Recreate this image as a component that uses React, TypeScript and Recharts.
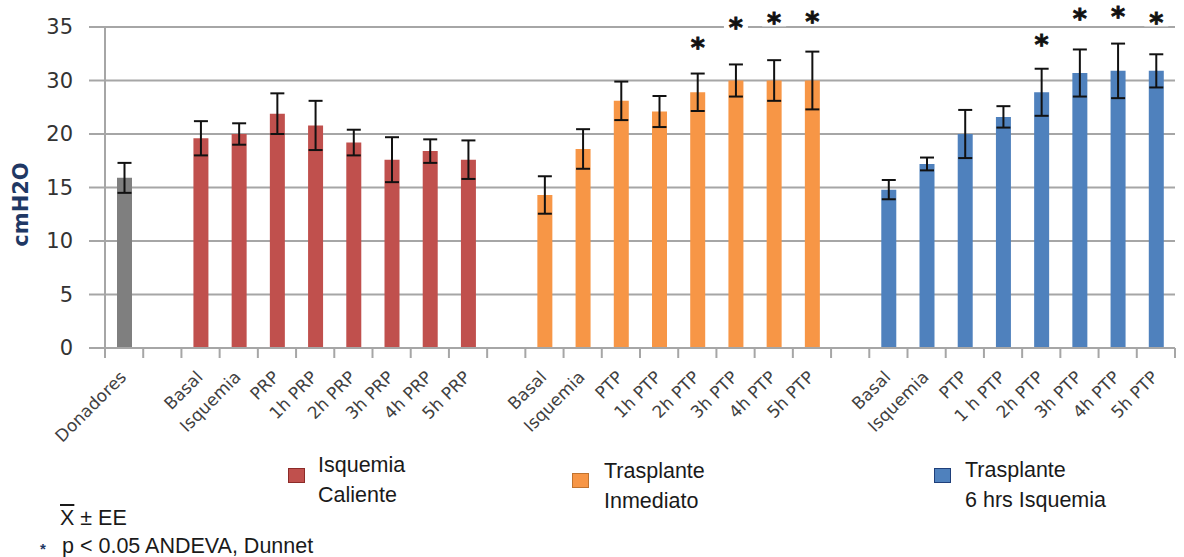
import React from 'react';
import { BarChart, Bar, XAxis, YAxis, CartesianGrid, ErrorBar, Cell, LabelList } from 'recharts';

// valores (cmH2O, media y error estandar)
const catDonadores = ['Donadores'];
const valDonadores = [15.9];
const eeDonadores = [1.4];

const catCaliente = ['Basal', 'Isquemia', 'PRP', '1h PRP', '2h PRP', '3h PRP', '4h PRP', '5h PRP'];
const valCaliente = [19.6, 20.0, 21.9, 20.8, 19.2, 17.6, 18.4, 17.6];
const eeCaliente = [1.6, 1.0, 1.9, 2.3, 1.2, 2.1, 1.1, 1.8];

const catInmediato = ['Basal', 'Isquemia', 'PTP', '1h PTP', '2h PTP', '3h PTP', '4h PTP', '5h PTP'];
const valInmediato = [14.3, 18.6, 23.1, 22.1, 23.9, 25.0, 25.0, 25.0];
const eeInmediato = [1.75, 1.85, 1.8, 1.45, 1.75, 1.5, 1.9, 2.7];
const estrellaInmediato = [null, null, null, null, 28.6, 30.5, 30.9, 31.0];

const catSeisHrs = ['Basal', 'Isquemia', 'PTP', '1 h PTP', '2h PTP', '3h PTP', '4h PTP', '5h PTP'];
const valSeisHrs = [14.8, 17.2, 20.0, 21.6, 23.9, 25.7, 25.9, 25.9];
const eeSeisHrs = [0.9, 0.6, 2.25, 1.0, 2.2, 2.2, 2.55, 1.55];
const estrellaSeisHrs = [null, null, null, null, 28.9, 31.35, 31.45, 30.9];

const ticksY = [0, 5, 10, 15, 20, 25, 30];
const etiquetasY = ['0', '5', '10', '15', '20', '30', '35'];

const leyendaTextos = [
  ['Isquemia', 'Caliente'],
  ['Trasplante', 'Inmediato'],
  ['Trasplante', '6 hrs Isquemia'],
];

const GRIS = '#A6A6A6';
const colores = {
  donadores: '#7F7F7F',
  caliente: '#C0504D',
  inmediato: '#F79646',
  seisHrs: '#4F81BD',
};

type Fila = { cat: string; valor: number | null; ee: number | null; estrella: number | null; color: string };

const vacio = (): Fila => ({ cat: '', valor: null, ee: null, estrella: null, color: 'none' });

const grupo = (cats: string[], vals: number[], ees: number[], color: string, estrellas?: (number | null)[]): Fila[] =>
  cats.map((c, i) => ({ cat: c, valor: vals[i], ee: ees[i], estrella: estrellas ? estrellas[i] : null, color }));

const datos: Fila[] = [
  ...grupo(catDonadores, valDonadores, eeDonadores, colores.donadores),
  vacio(),
  ...grupo(catCaliente, valCaliente, eeCaliente, colores.caliente),
  vacio(),
  ...grupo(catInmediato, valInmediato, eeInmediato, colores.inmediato, estrellaInmediato),
  vacio(),
  ...grupo(catSeisHrs, valSeisHrs, eeSeisHrs, colores.seisHrs, estrellaSeisHrs),
];

const ANCHO = 1184;
const ALTO = 557;
const ANCHO_EJE_Y = 105;
const MARGEN = { top: 27, right: 9, left: 0, bottom: 0 };
const BANDA = (ANCHO - ANCHO_EJE_Y - MARGEN.right) / datos.length;

// altura de la estrella relativa a la barra (la escala lineal parte de 0)
const proporcionEstrella = (d: Fila) => (d.estrella == null || d.valor == null ? null : d.estrella / d.valor);

function TickX(props: any) {
  const { x, y, payload, index } = props;
  const izq = x - BANDA / 2;
  const ultimo = index === datos.length - 1;
  const tx = x - 1;
  const ty = y + 26;
  return (
    <g>
      <line x1={izq} y1={y} x2={izq} y2={y + 10} stroke={GRIS} strokeWidth={2} />
      {ultimo && <line x1={x + BANDA / 2} y1={y} x2={x + BANDA / 2} y2={y + 10} stroke={GRIS} strokeWidth={2} />}
      {payload.value ? (
        <text
          x={tx}
          y={ty}
          dy="0.35em"
          textAnchor="end"
          transform={`rotate(-45 ${tx} ${ty})`}
          fill="#404040"
          fontSize={17}
          fontFamily="'DejaVu Sans', sans-serif"
        >
          {payload.value}
        </text>
      ) : null}
    </g>
  );
}

function Estrella(props: any) {
  const { x, y, width, height, value } = props;
  if (value == null || !height) return null;
  const cero = y + height;
  const cy = cero - value * height;
  const cx = x + width / 2;
  return (
    <g>
      <rect x={cx - 12} y={cy - 9} width={24} height={18} fill="#fff" />
      <text
        x={cx}
        y={cy + 15}
        textAnchor="middle"
        fontSize={27}
        fontWeight="bold"
        fill="#111"
        stroke="#111"
        strokeWidth={0.8}
        fontFamily="'DejaVu Sans', sans-serif"
      >
        *
      </text>
    </g>
  );
}

function EtiquetaY(props: any) {
  const vb = props.viewBox || { x: 0, y: 27, height: 321 };
  const cx = vb.x + 21;
  const cy = vb.y + vb.height / 2 + 17;
  return (
    <text
      x={cx}
      y={cy}
      dy="0.35em"
      textAnchor="middle"
      transform={`rotate(-90 ${cx} ${cy})`}
      fill="#1F3864"
      fontSize={21}
      fontWeight="bold"
      fontFamily="'DejaVu Sans', sans-serif"
    >
      cmH2O
    </text>
  );
}

const textoLeyenda: React.CSSProperties = {
  position: 'absolute',
  fontFamily: "'Liberation Sans', Arial, sans-serif",
  fontSize: 21.5,
  lineHeight: '30px',
  color: '#1a1a1a',
  whiteSpace: 'nowrap',
};

function Leyenda() {
  const pos = [
    { sx: 288, sy: 468, tx: 318, ty: 450, color: colores.caliente, borde: '#8C2B28' },
    { sx: 572, sy: 473, tx: 604, ty: 456, color: colores.inmediato, borde: '#C0732F' },
    { sx: 934, sy: 468, tx: 965, ty: 455, color: colores.seisHrs, borde: '#1F3F7A' },
  ];
  return (
    <>
      {leyendaTextos.map((lineas, i) => (
        <React.Fragment key={i}>
          <div
            style={{
              position: 'absolute',
              left: pos[i].sx,
              top: pos[i].sy,
              width: 15,
              height: 13,
              background: pos[i].color,
              border: `1px solid ${pos[i].borde}`,
            }}
          />
          <div style={{ ...textoLeyenda, left: pos[i].tx, top: pos[i].ty }}>
            {lineas.map((l) => (
              <div key={l}>{l}</div>
            ))}
          </div>
        </React.Fragment>
      ))}
      <div style={{ ...textoLeyenda, left: 60, top: 503 }}>
        <span style={{ textDecoration: 'overline' }}>X</span> ± EE
      </div>
      <div style={{ ...textoLeyenda, left: 40, top: 534, fontSize: 15, color: '#1F3864', fontWeight: 'bold' }}>*</div>
      <div style={{ ...textoLeyenda, left: 62, top: 531 }}>p &lt; 0.05 ANDEVA, Dunnet</div>
    </>
  );
}

export default function App() {
  return (
    <div style={{ position: 'absolute', left: 0, top: 0, width: ANCHO, height: ALTO, background: '#fff' }}>
      <BarChart width={ANCHO} height={ALTO} data={datos} margin={MARGEN} barCategoryGap={0}>
        <CartesianGrid vertical={false} stroke={GRIS} strokeWidth={2} />
        <XAxis
          dataKey="cat"
          interval={0}
          height={ALTO - MARGEN.top - 321}
          tickSize={0}
          tickMargin={0}
          tickLine={false}
          axisLine={{ stroke: GRIS, strokeWidth: 2 }}
          tick={<TickX />}
        />
        <YAxis
          width={ANCHO_EJE_Y}
          domain={[0, 30]}
          ticks={ticksY}
          interval={0}
          tickSize={16}
          tickMargin={16}
          tickLine={{ stroke: GRIS, strokeWidth: 2 }}
          axisLine={{ stroke: GRIS, strokeWidth: 2 }}
          tick={{ fill: '#333', fontSize: 21, fontFamily: "'DejaVu Sans', sans-serif" }}
          tickFormatter={(v: number) => etiquetasY[ticksY.indexOf(v)]}
          label={<EtiquetaY />}
        />
        <Bar dataKey="valor" barSize={15} isAnimationActive={false}>
          {datos.map((d, i) => (
            <Cell key={i} fill={d.color} />
          ))}
          <ErrorBar dataKey="ee" width={7} stroke="#111" strokeWidth={2} isAnimationActive={false} />
          <LabelList dataKey={proporcionEstrella} content={<Estrella />} />
        </Bar>
      </BarChart>
      <Leyenda />
    </div>
  );
}
